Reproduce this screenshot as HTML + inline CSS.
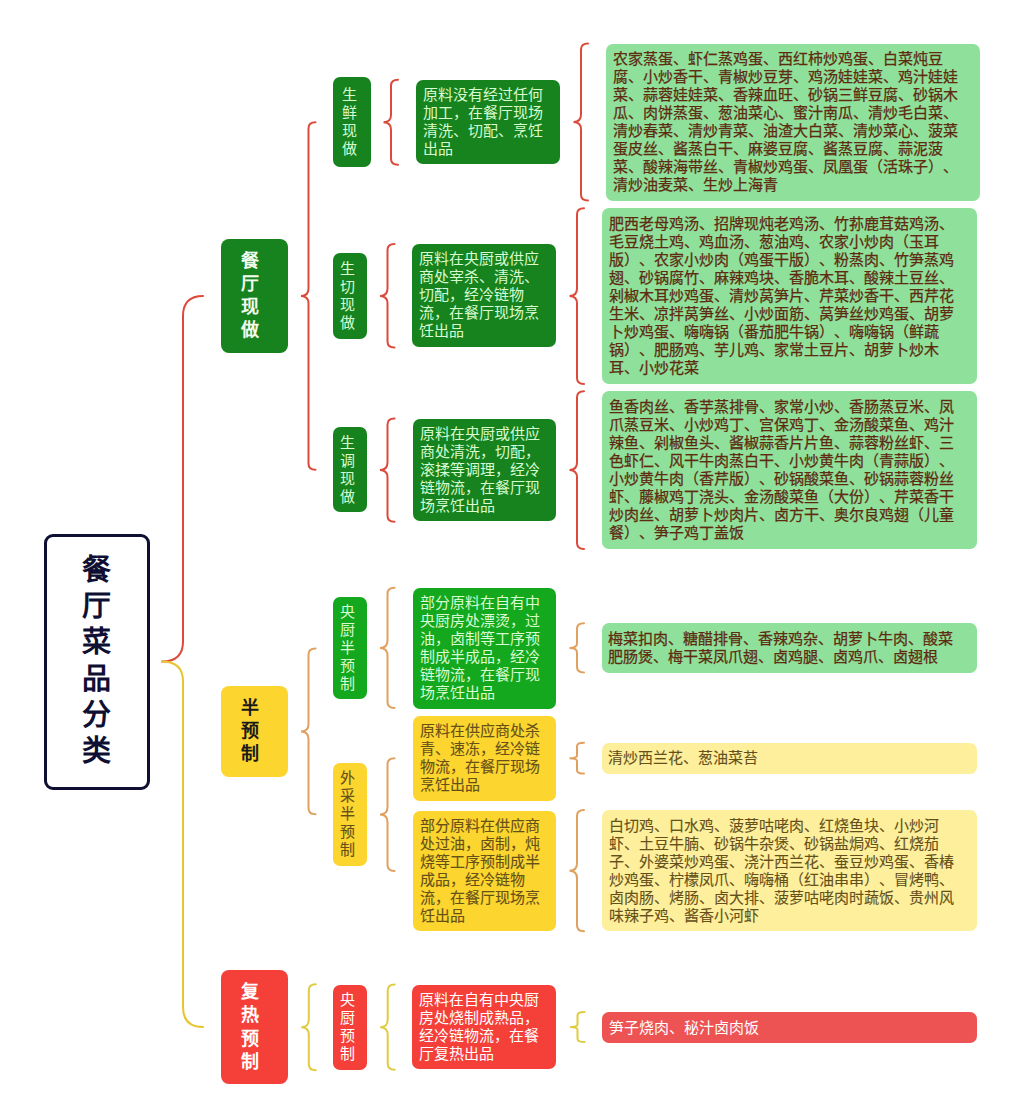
<!DOCTYPE html>
<html lang="zh-CN"><head><meta charset="utf-8"><style>
html,body{margin:0;padding:0;background:#fff;width:1024px;height:1114px;overflow:hidden;}
.b{position:absolute;box-sizing:border-box;}
.t{position:absolute;white-space:nowrap;text-spacing-trim:space-all;font-family:"Liberation Sans",sans-serif;}
svg{position:absolute;left:0;top:0;}
</style></head><body>
<svg width="1024" height="1114" viewBox="0 0 1024 1114"><path d="M203,296 Q183,296 183,316 L183,641.5 Q183,661.5 162,661.5" stroke="#dc4a3c" stroke-width="2" fill="none" stroke-linecap="round"/><path d="M162,661.5 Q183,661.5 183,681.5 L183,1007 Q183,1027 203,1027" stroke="#e8c42e" stroke-width="2" fill="none" stroke-linecap="round"/><path d="M315.5,122.2 Q308.5,122.2 308.5,128.2 L308.5,288.5 Q308.5,296 301.0,296 Q308.5,296 308.5,303.5 L308.5,463.7 Q308.5,469.7 315.5,469.7" stroke="#dc4a3c" stroke-width="2" fill="none" stroke-linecap="round"/><path d="M315.5,648.5 Q308.5,648.5 308.5,654.5 L308.5,723.9 Q308.5,731.4 301.0,731.4 Q308.5,731.4 308.5,738.9 L308.5,808.3 Q308.5,814.3 315.5,814.3" stroke="#e0a060" stroke-width="2" fill="none" stroke-linecap="round"/><path d="M315.8,984.2 Q308.8,984.2 308.8,990.2 L308.8,1019.7 Q308.8,1027.2 301.3,1027.2 Q308.8,1027.2 308.8,1034.7 L308.8,1064.3 Q308.8,1070.3 315.8,1070.3" stroke="#e0cc40" stroke-width="2" fill="none" stroke-linecap="round"/><path d="M398.0,79.7 Q391.0,79.7 391.0,85.7 L391.0,114.7 Q391.0,122.2 383.5,122.2 Q391.0,122.2 391.0,129.7 L391.0,158.8 Q391.0,164.8 398.0,164.8" stroke="#dc4a3c" stroke-width="2" fill="none" stroke-linecap="round"/><path d="M394.5,244.0 Q387.5,244.0 387.5,250.0 L387.5,288.5 Q387.5,296 380.0,296 Q387.5,296 387.5,303.5 L387.5,341.6 Q387.5,347.6 394.5,347.6" stroke="#dc4a3c" stroke-width="2" fill="none" stroke-linecap="round"/><path d="M394.5,418.6 Q387.5,418.6 387.5,424.6 L387.5,462.5 Q387.5,470 380.0,470 Q387.5,470 387.5,477.5 L387.5,515.7 Q387.5,521.7 394.5,521.7" stroke="#dc4a3c" stroke-width="2" fill="none" stroke-linecap="round"/><path d="M394.5,587.8 Q387.5,587.8 387.5,593.8 L387.5,640.5 Q387.5,648 380.0,648 Q387.5,648 387.5,655.5 L387.5,702 Q387.5,708 394.5,708" stroke="#e0a060" stroke-width="2" fill="none" stroke-linecap="round"/><path d="M394.5,758.2 Q387.5,758.2 387.5,764.2 L387.5,807.0 Q387.5,814.5 380.0,814.5 Q387.5,814.5 387.5,822.0 L387.5,864.9 Q387.5,870.9 394.5,870.9" stroke="#e0a060" stroke-width="2" fill="none" stroke-linecap="round"/><path d="M394.7,984.6 Q387.7,984.6 387.7,990.6 L387.7,1019.7 Q387.7,1027.2 380.2,1027.2 Q387.7,1027.2 387.7,1034.7 L387.7,1063.8 Q387.7,1069.8 394.7,1069.8" stroke="#e0cc40" stroke-width="2" fill="none" stroke-linecap="round"/><path d="M588,43.5 Q581,43.5 581,49.5 L581,114.5 Q581,122 573.5,122 Q581,122 581,129.5 L581,194.6 Q581,200.6 588,200.6" stroke="#dc4a3c" stroke-width="2" fill="none" stroke-linecap="round"/><path d="M584,208.2 Q577,208.2 577,214.2 L577,288.5 Q577,296 569.5,296 Q577,296 577,303.5 L577,378 Q577,384 584,384" stroke="#dc4a3c" stroke-width="2" fill="none" stroke-linecap="round"/><path d="M584,391.3 Q577,391.3 577,397.3 L577,462.5 Q577,470 569.5,470 Q577,470 577,477.5 L577,542.9 Q577,548.9 584,548.9" stroke="#dc4a3c" stroke-width="2" fill="none" stroke-linecap="round"/><path d="M584,623.3 Q577,623.3 577,628.7666666666667 L577,643.5272727272727 Q577,648 569.5,648 Q577,648 577,652.4727272727273 L577,667.0333333333333 Q577,672.5 584,672.5" stroke="#e0a060" stroke-width="2" fill="none" stroke-linecap="round"/><path d="M584,742.7 Q577,742.7 577,746.1333333333333 L577,755.3909090909092 Q577,758.2 569.5,758.2 Q577,758.2 577,761.0090909090909 L577,770.1666666666667 Q577,773.6 584,773.6" stroke="#e0a060" stroke-width="2" fill="none" stroke-linecap="round"/><path d="M584,810.1 Q577,810.1 577,816.1 L577,863.2 Q577,870.7 569.5,870.7 Q577,870.7 577,878.2 L577,925.3 Q577,931.3 584,931.3" stroke="#e0a060" stroke-width="2" fill="none" stroke-linecap="round"/><path d="M584.5,1012 Q577.5,1012 577.5,1015.3444444444444 L577.5,1024.2636363636364 Q577.5,1027 570.0,1027 Q577.5,1027 577.5,1029.7363636363636 L577.5,1038.7555555555555 Q577.5,1042.1 584.5,1042.1" stroke="#e0cc40" stroke-width="2" fill="none" stroke-linecap="round"/></svg>
<div class="b" style="left:44px;top:534px;width:106px;height:255.5px;border:3px solid #0e0f33;border-radius:9px;background:#fff"></div><div class="t" style="left:81.6px;top:552.3px;font-size:29px;line-height:36.1px;color:#0e0f33;-webkit-text-stroke:0px #0e0f33;font-weight:bold;">餐<br>厅<br>菜<br>品<br>分<br>类</div><div class="b" style="left:221.1px;top:238.7px;width:66.8px;height:114.7px;background:#16831e;border-radius:8px;"></div><div class="t" style="left:240.9px;top:249.6px;font-size:18px;line-height:23px;color:#f2fbef;-webkit-text-stroke:0px #f2fbef;font-weight:bold;">餐<br>厅<br>现<br>做</div><div class="b" style="left:221.1px;top:685.5px;width:66.6px;height:91.3px;background:#fcd52f;border-radius:8px;"></div><div class="t" style="left:241.0px;top:697.0px;font-size:18px;line-height:23px;color:#1a1a1a;-webkit-text-stroke:0px #1a1a1a;font-weight:bold;">半<br>预<br>制</div><div class="b" style="left:220.7px;top:969.7px;width:67.0px;height:114.8px;background:#f5403a;border-radius:8px;"></div><div class="t" style="left:240.8px;top:980.8px;font-size:18px;line-height:23.5px;color:#fff;-webkit-text-stroke:0px #fff;font-weight:bold;">复<br>热<br>预<br>制</div><div class="b" style="left:333.2px;top:77.3px;width:37.7px;height:89.7px;background:#16831e;border-radius:7px;"></div><div class="t" style="left:342.0px;top:85.9px;font-size:15px;line-height:18px;color:#d8fbd0;-webkit-text-stroke:0px #d8fbd0;">生<br>鲜<br>现<br>做</div><div class="b" style="left:333.2px;top:253.3px;width:33.6px;height:85.4px;background:#16831e;border-radius:7px;"></div><div class="t" style="left:339.8px;top:259.5px;font-size:15px;line-height:18px;color:#d8fbd0;-webkit-text-stroke:0px #d8fbd0;">生<br>切<br>现<br>做</div><div class="b" style="left:333.2px;top:427.3px;width:33.4px;height:84.8px;background:#16831e;border-radius:7px;"></div><div class="t" style="left:339.8px;top:433.5px;font-size:15px;line-height:18px;color:#d8fbd0;-webkit-text-stroke:0px #d8fbd0;">生<br>调<br>现<br>做</div><div class="b" style="left:333.2px;top:596.5px;width:33.4px;height:102.5px;background:#14a81e;border-radius:7px;"></div><div class="t" style="left:339.8px;top:602.7px;font-size:15px;line-height:18px;color:#d8fbd0;-webkit-text-stroke:0px #d8fbd0;">央<br>厨<br>半<br>预<br>制</div><div class="b" style="left:333.2px;top:762.9px;width:33.4px;height:103.4px;background:#fcd52f;border-radius:7px;"></div><div class="t" style="left:339.8px;top:769.1px;font-size:15px;line-height:18px;color:#66501a;-webkit-text-stroke:0.12px #66501a;">外<br>采<br>半<br>预<br>制</div><div class="b" style="left:333.1px;top:984.7px;width:33.9px;height:85.1px;background:#f5403a;border-radius:7px;"></div><div class="t" style="left:339.8px;top:990.9px;font-size:15px;line-height:18px;color:#fff;-webkit-text-stroke:0px #fff;">央<br>厨<br>预<br>制</div><div class="b" style="left:416.3px;top:79.7px;width:143.6px;height:84.8px;background:#16831e;border-radius:7px;"></div><div class="t" style="left:423.3px;top:86.10000000000001px;font-size:15px;line-height:18px;color:#d8fbd0;-webkit-text-stroke:0px #d8fbd0;">原料没有经过任何<br>加工，在餐厅现场<br>清洗、切配、烹饪<br>出品</div><div class="b" style="left:412.2px;top:244.0px;width:143.6px;height:102.8px;background:#16831e;border-radius:7px;"></div><div class="t" style="left:419.2px;top:250.4px;font-size:15px;line-height:18px;color:#d8fbd0;-webkit-text-stroke:0px #d8fbd0;">原料在央厨或供应<br>商处宰杀、清洗、<br>切配，经冷链物<br>流，在餐厅现场烹<br>饪出品</div><div class="b" style="left:412.5px;top:418.6px;width:143.6px;height:102.8px;background:#16831e;border-radius:7px;"></div><div class="t" style="left:419.5px;top:425.0px;font-size:15px;line-height:18px;color:#d8fbd0;-webkit-text-stroke:0px #d8fbd0;">原料在央厨或供应<br>商处清洗，切配，<br>滚揉等调理，经冷<br>链物流，在餐厅现<br>场烹饪出品</div><div class="b" style="left:412.5px;top:587.8px;width:143.6px;height:120.8px;background:#14a81e;border-radius:7px;"></div><div class="t" style="left:419.5px;top:594.1999999999999px;font-size:15px;line-height:18px;color:#d8fbd0;-webkit-text-stroke:0px #d8fbd0;">部分原料在自有中<br>央厨房处漂烫，过<br>油，卤制等工序预<br>制成半成品，经冷<br>链物流，在餐厅现<br>场烹饪出品</div><div class="b" style="left:412.5px;top:715.9px;width:143.6px;height:84.8px;background:#fcd52f;border-radius:7px;"></div><div class="t" style="left:419.5px;top:722.3px;font-size:15px;line-height:18px;color:#66501a;-webkit-text-stroke:0.12px #66501a;">原料在供应商处杀<br>青、速冻，经冷链<br>物流，在餐厅现场<br>烹饪出品</div><div class="b" style="left:412.5px;top:810.7px;width:143.6px;height:120.8px;background:#fcd52f;border-radius:7px;"></div><div class="t" style="left:419.5px;top:817.1px;font-size:15px;line-height:18px;color:#66501a;-webkit-text-stroke:0.12px #66501a;">部分原料在供应商<br>处过油，卤制，炖<br>烧等工序预制成半<br>成品，经冷链物<br>流，在餐厅现场烹<br>饪出品</div><div class="b" style="left:412.3px;top:984.6px;width:143.6px;height:84.8px;background:#f5403a;border-radius:7px;"></div><div class="t" style="left:419.3px;top:991.0px;font-size:15px;line-height:18px;color:#fff;-webkit-text-stroke:0px #fff;">原料在自有中央厨<br>房处烧制成熟品，<br>经冷链物流，在餐<br>厅复热出品</div><div class="b" style="left:606px;top:43.5px;width:374.3px;height:157.4px;background:#8ee09a;border-radius:7px;"></div><div class="t" style="left:612.8px;top:50.1px;font-size:15px;line-height:18px;color:#5e2a10;-webkit-text-stroke:0.25px #5e2a10;">农家蒸蛋、虾仁蒸鸡蛋、西红柿炒鸡蛋、白菜炖豆<br>腐、小炒香干、青椒炒豆芽、鸡汤娃娃菜、鸡汁娃娃<br>菜、蒜蓉娃娃菜、香辣血旺、砂锅三鲜豆腐、砂锅木<br>瓜、肉饼蒸蛋、葱油菜心、蜜汁南瓜、清炒毛白菜、<br>清炒春菜、清炒青菜、油渣大白菜、清炒菜心、菠菜<br>蛋皮丝、酱蒸白干、麻婆豆腐、酱蒸豆腐、蒜泥菠<br>菜、酸辣海带丝、青椒炒鸡蛋、凤凰蛋（活珠子）、<br>清炒油麦菜、生炒上海青</div><div class="b" style="left:602px;top:208.2px;width:375.0px;height:175.4px;background:#8ee09a;border-radius:7px;"></div><div class="t" style="left:608.8px;top:214.79999999999998px;font-size:15px;line-height:18px;color:#5e2a10;-webkit-text-stroke:0.25px #5e2a10;">肥西老母鸡汤、招牌现炖老鸡汤、竹荪鹿茸菇鸡汤、<br>毛豆烧土鸡、鸡血汤、葱油鸡、农家小炒肉（玉耳<br>版）、农家小炒肉（鸡蛋干版）、粉蒸肉、竹笋蒸鸡<br>翅、砂锅腐竹、麻辣鸡块、香脆木耳、酸辣土豆丝、<br>剁椒木耳炒鸡蛋、清炒莴笋片、芹菜炒香干、西芹花<br>生米、凉拌莴笋丝、小炒面筋、莴笋丝炒鸡蛋、胡萝<br>卜炒鸡蛋、嗨嗨锅（番茄肥牛锅）、嗨嗨锅（鲜蔬<br>锅）、肥肠鸡、芋儿鸡、家常土豆片、胡萝卜炒木<br>耳、小炒花菜</div><div class="b" style="left:602.4px;top:391.3px;width:375.0px;height:157.4px;background:#8ee09a;border-radius:7px;"></div><div class="t" style="left:609.1999999999999px;top:397.90000000000003px;font-size:15px;line-height:18px;color:#5e2a10;-webkit-text-stroke:0.25px #5e2a10;">鱼香肉丝、香芋蒸排骨、家常小炒、香肠蒸豆米、凤<br>爪蒸豆米、小炒鸡丁、宫保鸡丁、金汤酸菜鱼、鸡汁<br>辣鱼、剁椒鱼头、酱椒蒜香片片鱼、蒜蓉粉丝虾、三<br>色虾仁、风干牛肉蒸白干、小炒黄牛肉（青蒜版）、<br>小炒黄牛肉（香芹版）、砂锅酸菜鱼、砂锅蒜蓉粉丝<br>虾、藤椒鸡丁浇头、金汤酸菜鱼（大份）、芹菜香干<br>炒肉丝、胡萝卜炒肉片、卤方干、奥尔良鸡翅（儿童<br>餐）、笋子鸡丁盖饭</div><div class="b" style="left:601.6px;top:623.3px;width:375.0px;height:49.4px;background:#8ee09a;border-radius:7px;"></div><div class="t" style="left:608.4px;top:629.9px;font-size:15px;line-height:18px;color:#5e2a10;-webkit-text-stroke:0.25px #5e2a10;">梅菜扣肉、糖醋排骨、香辣鸡杂、胡萝卜牛肉、酸菜<br>肥肠煲、梅干菜凤爪翅、卤鸡腿、卤鸡爪、卤翅根</div><div class="b" style="left:601.6px;top:742.7px;width:375.0px;height:31.4px;background:#fdef9b;border-radius:7px;"></div><div class="t" style="left:608.4px;top:749.3000000000001px;font-size:15px;line-height:18px;color:#66501a;-webkit-text-stroke:0.12px #66501a;">清炒西兰花、葱油菜苔</div><div class="b" style="left:602.4px;top:810.1px;width:375.0px;height:121.4px;background:#fdef9b;border-radius:7px;"></div><div class="t" style="left:609.1999999999999px;top:816.7px;font-size:15px;line-height:18px;color:#66501a;-webkit-text-stroke:0.12px #66501a;">白切鸡、口水鸡、菠萝咕咾肉、红烧鱼块、小炒河<br>虾、土豆牛腩、砂锅牛杂煲、砂锅盐焗鸡、红烧茄<br>子、外婆菜炒鸡蛋、浇汁西兰花、蚕豆炒鸡蛋、香椿<br>炒鸡蛋、柠檬凤爪、嗨嗨桶（红油串串）、冒烤鸭、<br>卤肉肠、烤肠、卤大排、菠萝咕咾肉时蔬饭、贵州风<br>味辣子鸡、酱香小河虾</div><div class="b" style="left:601.8px;top:1012px;width:375.0px;height:31.4px;background:#ee5353;border-radius:7px;"></div><div class="t" style="left:608.5999999999999px;top:1018.6px;font-size:15px;line-height:18px;color:#fff;-webkit-text-stroke:0px #fff;">笋子烧肉、秘汁卤肉饭</div>
</body></html>
